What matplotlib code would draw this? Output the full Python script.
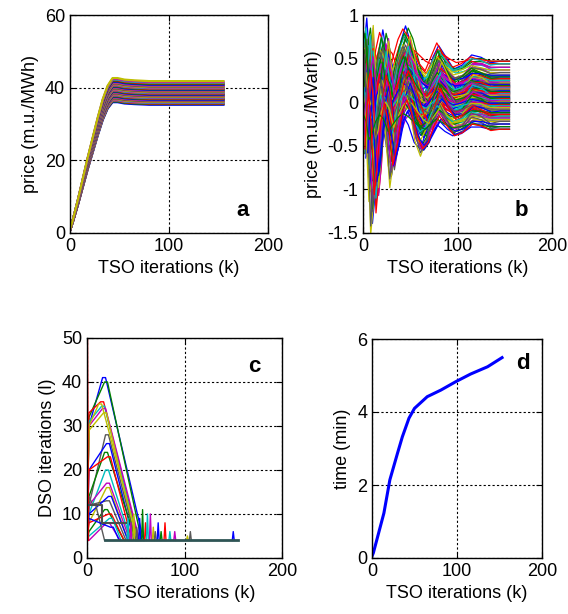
import numpy as np
import matplotlib
matplotlib.use("Agg")
import matplotlib.pyplot as plt

plt.rcParams['font.family'] = ['Liberation Sans', 'DejaVu Sans']
plt.rcParams['axes.unicode_minus'] = False

# ---------------- data ----------------
# panel a: settled energy prices (m.u./MWh) of each line, and common normalised rise
a_final = [41.8, 41.6, 41.4, 41.2, 41.0, 40.8, 40.6, 40.45, 40.3, 40.15, 40.0, 39.85,
           39.7, 39.55, 39.4, 39.25, 39.1, 38.95, 38.8, 38.65, 38.5, 38.35, 38.2, 38.05,
           37.9, 37.75, 37.6, 37.45, 37.3, 37.15, 37.0, 36.85, 36.7, 36.55, 36.4, 36.25,
           36.1, 35.95, 35.8, 35.65, 35.5, 35.3]
a_k = [0, 3, 8, 13, 18, 23, 28, 33, 38, 43, 48, 55, 65, 80, 100, 130, 155]
a_shape = [0.02, 0.09, 0.22, 0.36, 0.5, 0.63, 0.76, 0.88, 0.97, 1.02, 1.02, 1.01,
           1.005, 1.0, 1.0, 1.0, 1.0]

# panel b: reactive prices, final value, oscillation amplitude and phase shift per line
b_final = [0.47, 0.44, 0.40, 0.37, 0.34, 0.31, 0.29, 0.27, 0.25, 0.23, 0.22, 0.21,
           0.20, 0.19, 0.18, 0.17, 0.16, 0.15, 0.14, 0.13, 0.12, 0.11, 0.10, 0.09,
           0.08, 0.07, 0.06, 0.05, 0.04, 0.03, 0.02, 0.01, 0.0, -0.01, -0.02, -0.03,
           -0.04, -0.05, -0.06, -0.08, -0.10, -0.12, -0.14, -0.16, -0.18, -0.20,
           -0.22, -0.25, -0.28, -0.31]
b_amp = [0.9, 0.5, 0.7, 0.35, 1.0, 0.6, 0.8, 0.45, 1.2, 0.55, 0.3, 0.75]
b_shift = [0, 3, -2, 5, -4, 2, 7, -1, 4, -3]
b_k = [0, 2, 4, 7, 10, 13, 17, 21, 25, 30, 35, 40, 45, 50, 56, 62, 68, 74, 80, 88,
       96, 105, 115, 125, 135, 145, 155]
b_shape1 = [-0.3, 0.3, 0.55, 0.0, -1.0, -0.6, 0.1, 0.4, 0.1, -0.55, -0.2, 0.25, 0.45,
            0.25, -0.1, -0.3, -0.2, 0.05, 0.2, 0.05, -0.1, -0.05, 0.08, 0.05, -0.02,
            0.0, 0.0]
b_shape2 = [-0.6, 0.1, 0.4, -0.3, -1.2, -0.9, -0.2, 0.3, -0.1, -0.75, -0.4, 0.1, 0.3,
            0.1, -0.3, -0.45, -0.3, -0.1, 0.1, -0.05, -0.15, -0.1, 0.05, 0.05, 0.0,
            0.0, 0.0]
b_shape3 = [0.1, 0.4, 0.5, 0.2, -0.5, -0.3, 0.2, 0.45, 0.3, -0.2, 0.1, 0.35, 0.5, 0.4,
            0.2, 0.0, -0.1, 0.1, 0.3, 0.1, -0.05, 0.0, 0.1, 0.05, 0.0, 0.0, 0.0]

# panel c: DSO iterations per TSO iteration
c_start = [30, 32, 33, 31, 30, 29, 12, 20, 14, 20, 10, 12, 8, 12, 10, 6, 8, 5, 4, 30, 14, 9]
c_peak = [41, 40, 35.5, 34.5, 34, 33, 28, 26, 24, 23, 20, 17, 16, 13, 14, 11, 10, 9, 8, 35, 12, 7]
c_peak_k = [18, 20, 16, 17, 18, 19, 21, 22, 20, 23, 21, 22, 22, 22, 24, 20, 24, 25, 22, 14, 8, 26]
c_end_k = [58, 56, 53, 52, 54, 50, 50, 48, 50, 46, 45, 44, 42, 40, 42, 38, 38, 35, 34, 52, 18, 33]
c_spike_k = [0.5, 42, 45, 48, 51, 54, 57, 60, 62, 65, 68, 70, 73, 76, 80, 85, 90, 103, 106, 150]
c_spike_v = [50, 9, 8, 10, 7, 9, 11, 8, 10, 10, 7, 6, 8, 6, 8, 6, 6, 5, 6, 6]
c_flat = 4

# panel d: computation time
d_k = [0, 1.6, 14, 21, 30, 35.7, 43.5, 50, 65, 81, 98.5, 116, 136, 153]
d_t = [0.05, 0.14, 1.23, 2.14, 2.87, 3.32, 3.83, 4.1, 4.42, 4.6, 4.83, 5.04, 5.24, 5.49]

colors = [(0, 0, 1), (0, 0.5, 0), (1, 0, 0), (0, 0.75, 0.75), (0.75, 0, 0.75),
          (0.75, 0.75, 0), (0.35, 0.35, 0.35), (0.55, 0.35, 0.15), (0.85, 0.2, 0.6)]

# ---------------- figure ----------------
fig = plt.figure(figsize=(5.68, 6.14), dpi=100)
W, H = 568, 614


def add_ax(l, r, t, b):
    return fig.add_axes([l / W, 1 - b / H, (r - l) / W, (b - t) / H])


axa = add_ax(70, 268, 15, 233)
axb = add_ax(363, 552, 15, 233)
axc = add_ax(87, 282, 338, 558)
axd = add_ax(372, 542, 339, 558)

FS = 13

# a
ka = np.array(a_k, float)
sa = np.array(a_shape)
for i, f in enumerate(a_final[::-1]):
    axa.plot(ka, f * sa, color=colors[i % len(colors)], lw=1.6)
axa.set_ylim(0, 60)
axa.set_yticks([0, 20, 40, 60])
axa.set_ylabel('price (m.u./MWh)', fontsize=FS)

# b
kb = np.array(b_k, float)
shapes = [np.array(b_shape1), np.array(b_shape2), np.array(b_shape3)]
n = 0
for rep in range(3):
    for i, f in enumerate(b_final):
        a = b_amp[(i + 5 * rep) % len(b_amp)]
        s = b_shift[(i + 3 * rep) % len(b_shift)]
        tb = shapes[(i + rep) % 3]
        x = np.clip(kb + s * (1 - kb / 155.0), 0, 155)
        axb.plot(x, f + a * tb, color=colors[n % 7], lw=0.9)
        n += 1
axb.set_ylim(-1.5, 1)
axb.set_yticks([-1.5, -1, -0.5, 0, 0.5, 1])
axb.set_yticklabels(['-1.5', '-1', '-0.5', '0', '0.5', '1'])
axb.set_ylabel('price (m.u./MVarh)', fontsize=FS)

# c
for i in range(len(c_peak)):
    pk = c_peak_k[i]
    x = [0, 2, pk - 2, pk + 1, c_end_k[i], c_end_k[i] + 1]
    y = [c_flat, c_start[i], c_peak[i], c_peak[i], c_flat, c_flat]
    axc.plot(x, y, color=colors[i % 7], lw=1.0)
for j, (k, v) in enumerate(zip(c_spike_k, c_spike_v)):
    col = colors[(j + 2) % 7]
    axc.plot([max(k - 1, 0), k, k + 1], [c_flat, v, c_flat], color=col, lw=1.0)
axc.plot([0, 15, 15, 40], [12, 12, 8, 8], color=(0.3, 0.3, 0.3), lw=1.5)
axc.plot([18, 155], [c_flat, c_flat], color=(0.18, 0.33, 0.33), lw=2.0)
axc.set_ylim(0, 50)
axc.set_yticks([0, 10, 20, 30, 40, 50])
axc.set_ylabel('DSO iterations (l)', fontsize=FS)

# d
axd.plot(d_k, d_t, color=(0, 0, 1), lw=2.2)
axd.set_ylim(0, 6)
axd.set_yticks([0, 2, 4, 6])
axd.set_ylabel('time (min)', fontsize=FS)

labels = {axa: ('a', 0.87, 0.105), axb: ('b', 0.84, 0.105),
          axc: ('c', 0.86, 0.87), axd: ('d', 0.89, 0.89)}
for ax in (axa, axb, axc, axd):
    ax.set_xlim(0, 200)
    ax.set_xticks([0, 100, 200])
    ax.set_xlabel('TSO iterations (k)', fontsize=FS)
    ax.grid(True, color='black', linestyle=(0, (2, 2)), lw=0.8)
    ax.tick_params(direction='in', length=4, labelsize=FS, top=True, right=True)
    for sp in ax.spines.values():
        sp.set_linewidth(1.0)
    t, x, y = labels[ax]
    ax.text(x, y, t, transform=ax.transAxes, fontsize=16, fontweight='bold',
            ha='center', va='center')

fig.savefig('out.png', dpi=100)
